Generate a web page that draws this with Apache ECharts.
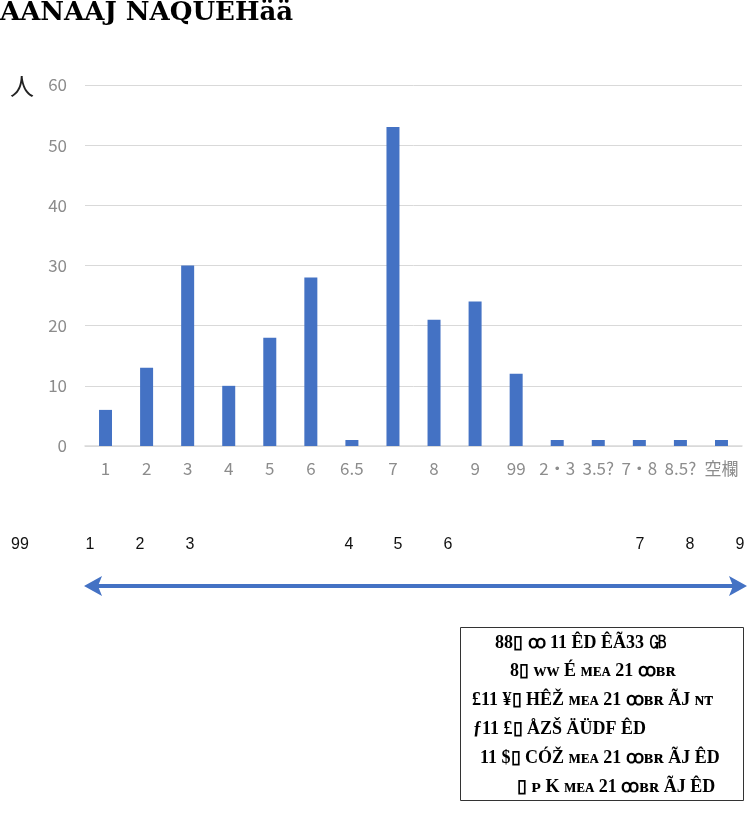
<!DOCTYPE html>
<html><head><meta charset="utf-8">
<script src="https://cdn.jsdelivr.net/npm/echarts@6/dist/echarts.min.js"></script>
<style>html,body{margin:0;padding:0;background:#fff}#c{width:748px;height:814px}</style>
</head><body><div id="c"></div>
<script>
const categories = ['1','2','3','4','5','6','6.5','7','8','9','99','2・3','3.5?','7・8','8.5?','空欄'];
const counts = [6,13,30,10,18,28,1,53,21,24,12,1,1,1,1,1];
const yTicks = {min:0, max:60, interval:10};
const lineLabels = ['99','1','2','3','4','5','6','7','8','9'];
const lineLabelX = [20,90,140,190,349,398,448,640,690,740];
const titleText = 'ÂAÑÄÄJ ÑÂQÜÊHää';
const boxLines = [
  '88▯ ꝏ 11 ÊD ÊÃ33 ㎇',
  '8▯ ᴡᴡ É ᴍᴇᴀ 21 ꝏʙʀ',
  '£11 ¥▯ HÊŽ ᴍᴇᴀ 21 ꝏʙʀ ÃJ ɴᴛ',
  'ƒ11 £▯ ÅZŠ ÄÜDF ÊD',
  '11 $▯ CÓŽ ᴍᴇᴀ 21 ꝏʙʀ ÃJ ÊD',
  '▯ ᴘ K ᴍᴇᴀ 21 ꝏʙʀ ÃJ ÊD'
];
const boxLineX = [495,510,472,473,480,517];

const chart = echarts.init(document.getElementById('c'), null, {renderer:'canvas'});
const graphics = [];
graphics.push({type:'text', left:0, top:0, style:{text:titleText, font:'bold 26px "DejaVu Serif"', fill:'#000'}});
graphics.push({type:'text', left:10, top:74, style:{text:'人', font:'24px "Noto Sans CJK JP"', fill:'#222'}});
lineLabels.forEach((t,i)=>{
  graphics.push({type:'text', x:lineLabelX[i], y:545, style:{text:t, font:'16px "Liberation Sans"', fill:'#111', align:'center', verticalAlign:'middle'}});
});
// double arrow
graphics.push({type:'line', shape:{x1:96,y1:586,x2:734,y2:586}, style:{stroke:'#4472C4', lineWidth:4}});
graphics.push({type:'polygon', shape:{points:[[84,586],[102,576],[98,586],[102,596]]}, style:{fill:'#4472C4'}});
graphics.push({type:'polygon', shape:{points:[[747,586],[729,576],[733,586],[729,596]]}, style:{fill:'#4472C4'}});
// box
graphics.push({type:'rect', shape:{x:460.5,y:627.5,width:283,height:173}, style:{fill:'#fff', stroke:'#333', lineWidth:1}});
boxLines.forEach((t,i)=>{
  graphics.push({type:'text', x:boxLineX[i], y:643+i*28.8, style:{text:t, font:'bold 18px "Liberation Serif"', fill:'#000', verticalAlign:'middle'}});
});

chart.setOption({
  animation:false,
  backgroundColor:'#fff',
  grid:{left:85, right:6, top:85, bottom:368},
  xAxis:{type:'category', data:categories,
    axisLine:{lineStyle:{color:'#d9d9d9', width:1.5}}, axisTick:{show:false},
    axisLabel:{interval:0, color:'#8c8c8c', fontSize:17, margin:14, fontFamily:'"Noto Sans CJK JP"'}},
  yAxis:{type:'value', min:yTicks.min, max:yTicks.max, interval:yTicks.interval,
    axisLine:{show:false}, axisTick:{show:false},
    splitLine:{lineStyle:{color:'#d9d9d9', width:1}},
    axisLabel:{color:'#8c8c8c', fontSize:17, margin:18, fontFamily:'"Noto Sans CJK JP"'}},
  series:[{type:'bar', data:counts, barWidth:13, itemStyle:{color:'#4472C4'}}],
  graphic:graphics
});
</script></body></html>
